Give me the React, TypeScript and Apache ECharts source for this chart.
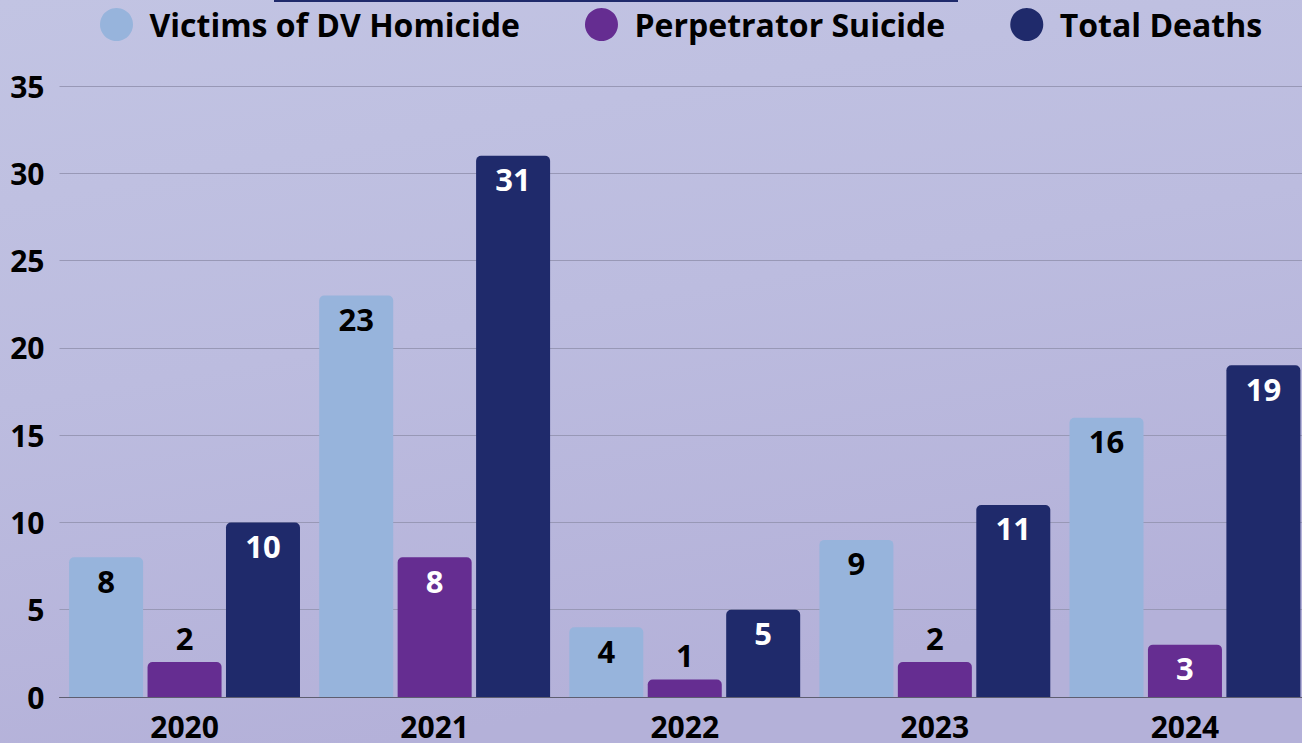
import React, { useEffect, useRef } from "react";
import * as echarts from "echarts";

const years = ["2020", "2021", "2022", "2023", "2024"];
const victims = [8, 23, 4, 9, 16];
const suicides = [2, 8, 1, 2, 3];
const totals = [10, 31, 5, 11, 19];
const seriesNames = ["Victims of DV Homicide", "Perpetrator Suicide", "Total Deaths"];
const yMax = 35;
const yInterval = 5;

const FONT = "'Open Sans', 'Noto Sans', sans-serif";
const C_LIGHT = "#97b4dc";
const C_PURPLE = "#652d91";
const C_NAVY = "#1f2a6b";

export default function App() {
  const ref = useRef<HTMLDivElement>(null);
  useEffect(() => {
    if (!ref.current) return;
    const chart = echarts.init(ref.current, undefined, { renderer: "svg" });
    const insideLabel = (color: string) => ({
      show: true,
      position: "insideTop",
      distance: 8,
      color,
      fontFamily: FONT,
      fontWeight: "bold",
      fontSize: 31,
    });
    const topLabel = {
      show: true,
      position: "top",
      distance: 9,
      color: "#000",
      fontFamily: FONT,
      fontWeight: "bold",
      fontSize: 31,
    };
    const barCommon = {
      type: "bar",
      barWidth: 74,
      barGap: "6%",
      itemStyle: { borderRadius: [5, 5, 0, 0] },
    };
    chart.setOption({
      animation: false,
      backgroundColor: {
        type: "linear",
        x: 0,
        y: 0,
        x2: 0.3,
        y2: 1,
        colorStops: [
          { offset: 0, color: "#c2c4e3" },
          { offset: 0.5, color: "#bcbcdf" },
          { offset: 1, color: "#b4b1d9" },
        ],
      },
      graphic: [
        {
          type: "rect",
          shape: { x: 274, y: 0, width: 684, height: 2 },
          style: { fill: C_NAVY },
        },
      ],
      legend: {
        top: 8,
        left: 100,
        padding: 0,
        icon: "circle",
        itemWidth: 34,
        itemHeight: 33,
        itemGap: 65,
        textStyle: {
          fontFamily: FONT,
          fontWeight: "bold",
          fontSize: 32,
          color: "#000",
          padding: [0, 0, 0, 11],
        },
        data: seriesNames,
      },
      grid: { left: 59.5, right: 0, top: 86, bottom: 46 },
      xAxis: {
        type: "category",
        data: years,
        axisTick: { show: false },
        axisLine: { lineStyle: { color: "#5e5e70", width: 1 } },
        axisLabel: {
          margin: 19,
          lineHeight: 20,
          color: "#000",
          fontFamily: FONT,
          fontWeight: "bold",
          fontSize: 30,
        },
      },
      yAxis: {
        type: "value",
        min: 0,
        max: yMax,
        interval: yInterval,
        axisLine: { show: false },
        axisTick: { show: false },
        splitLine: { lineStyle: { color: "#9898b6", width: 1 } },
        axisLabel: {
          margin: 15,
          color: "#000",
          fontFamily: FONT,
          fontWeight: "bold",
          fontSize: 30,
        },
      },
      series: [
        {
          ...barCommon,
          name: seriesNames[0],
          data: victims,
          itemStyle: { ...barCommon.itemStyle, color: C_LIGHT },
          label: insideLabel("#000"),
        },
        {
          ...barCommon,
          name: seriesNames[1],
          data: suicides.map((v) => ({
            value: v,
            label: v < 3 ? topLabel : insideLabel("#fff"),
          })),
          itemStyle: { ...barCommon.itemStyle, color: C_PURPLE },
          label: insideLabel("#fff"),
        },
        {
          ...barCommon,
          name: seriesNames[2],
          data: totals,
          itemStyle: { ...barCommon.itemStyle, color: C_NAVY },
          label: insideLabel("#fff"),
        },
      ],
    });
    return () => chart.dispose();
  }, []);
  return (
    <div
      style={{
        position: "fixed",
        left: 0,
        top: 0,
        width: 1302,
        height: 743,
        overflow: "hidden",
      }}
    >
      <div ref={ref} style={{ width: 1309.5, height: 743 }} />
    </div>
  );
}
